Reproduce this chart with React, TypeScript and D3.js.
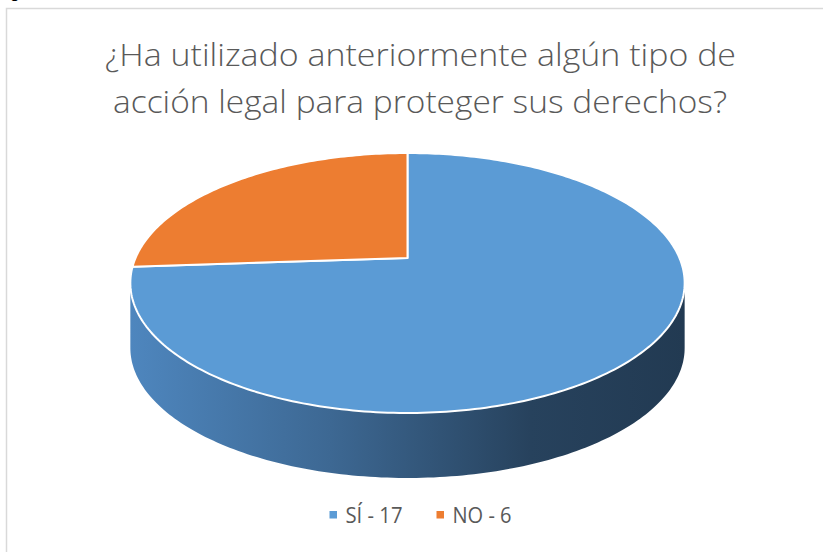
import React from "react";
import * as d3 from "d3";

const categories = ["SÍ", "NO"];
const values = [17, 6];
const legendLabels = ["SÍ - 17", "NO - 6"];
const titleLines = [
  "¿Ha utilizado anteriormente algún tipo de",
  "acción legal para proteger sus derechos?",
];
const sliceColors = ["#5B9BD5", "#ED7D31"];

const W = 823;
const H = 552;

// perspective disc projection
const CX = 407.5;
const CY = 258;
const FX = 1262;
const FY = 1285;
const D0 = 4.64;
const SIN = 0.452;
const COS = 0.892;
const DEPTH = 65;

function project(theta: number): [number, number] {
  const x = Math.sin(theta);
  const z = -Math.cos(theta);
  const d = D0 - z * COS;
  return [CX + (FX * x) / d, CY + (FY * z * SIN) / d];
}

export default function App() {
  const color = d3.scaleOrdinal<string, string>().domain(categories).range(sliceColors);
  const pie = d3
    .pie<number>()
    .sort(null)
    .startAngle(0)
    .endAngle(2 * Math.PI);
  const arcs = pie(values);
  const line = d3.line<[number, number]>().x((p) => p[0]).y((p) => p[1]);

  // find silhouette extremes
  const N = 1440;
  let thR = 0,
    thL = 0,
    maxX = -Infinity,
    minX = Infinity;
  for (let i = 0; i < N; i++) {
    const t = (i / N) * 2 * Math.PI;
    const [sx] = project(t);
    if (sx > maxX) {
      maxX = sx;
      thR = t;
    }
    if (sx < minX) {
      minX = sx;
      thL = t;
    }
  }

  const rim = (a0: number, a1: number) => {
    const n = Math.max(2, Math.ceil(((a1 - a0) / (2 * Math.PI)) * 360));
    const pts: [number, number][] = [];
    for (let i = 0; i <= n; i++) pts.push(project(a0 + ((a1 - a0) * i) / n));
    return pts;
  };

  const sides = arcs
    .map((a, i) => {
      const s = Math.max(a.startAngle, thR);
      const e = Math.min(a.endAngle, thL);
      if (e <= s) return null;
      const top = rim(s, e);
      const bottom = top.map((p) => [p[0], p[1] + DEPTH] as [number, number]).reverse();
      return { i, d: line([...top, ...bottom]) + "Z" };
    })
    .filter(Boolean) as { i: number; d: string }[];

  const tops = arcs.map((a, i) => {
    const pts: [number, number][] = [[CX, CY], ...rim(a.startAngle, a.endAngle)];
    return { i, d: line(pts) + "Z" };
  });

  return (
    <svg
      width={W}
      height={H}
      style={{ position: "absolute", left: 0, top: 0, background: "#fff" }}
      fontFamily="'Open Sans', 'Noto Sans', sans-serif"
    >
      <defs>
        <linearGradient id="sideGrad" gradientUnits="userSpaceOnUse" x1={130} x2={686} y1={0} y2={0}>
          <stop offset="0" stopColor="#4E86BE" />
          <stop offset="0.36" stopColor="#3D6893" />
          <stop offset="0.72" stopColor="#27425D" />
          <stop offset="1" stopColor="#223A52" />
        </linearGradient>
      </defs>
      <text x={10} y={-2} fontSize={17} fill="#000" fontFamily="'Liberation Sans', sans-serif">
        g
      </text>
      <rect x={6.5} y={8.5} width={W + 10} height={H + 10} fill="none" stroke="#D9D9D9" strokeWidth={1.5} />
      {titleLines.map((t, i) => (
        <text
          key={i}
          x={i === 0 ? 105 : 113}
          y={i === 0 ? 66 : 113}
          fontSize={31}
          fontWeight={300}
          fill="#595959"
          textLength={i === 0 ? 631 : 614}
          lengthAdjust="spacingAndGlyphs"
        >
          {t}
        </text>
      ))}
      {sides.map((s) => (
        <path key={"s" + s.i} d={s.d} fill="url(#sideGrad)" stroke="none" />
      ))}
      {tops.map((t) => (
        <path
          key={"t" + t.i}
          d={t.d}
          fill={color(categories[t.i])}
          stroke="#fff"
          strokeWidth={2}
          strokeLinejoin="round"
        />
      ))}
      {legendLabels.map((lab, i) => {
        const x0 = i === 0 ? 329.5 : 436.5;
        return (
          <g key={lab}>
            <rect x={x0} y={511} width={7.5} height={7.5} fill={color(categories[i])} />
            <text x={x0 + 16} y={522.5} fontSize={22} fill="#595959" textLength={i === 0 ? 57 : 59} lengthAdjust="spacingAndGlyphs">
              {lab}
            </text>
          </g>
        );
      })}
    </svg>
  );
}
